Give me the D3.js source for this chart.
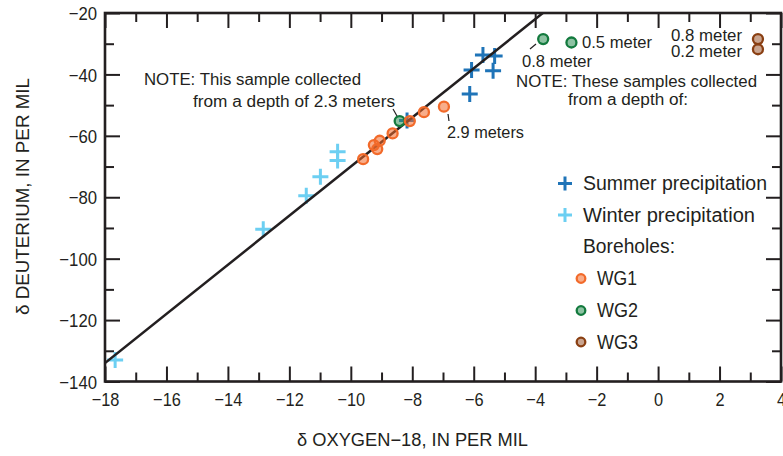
<!DOCTYPE html>
<html><head><meta charset="utf-8">
<script src="https://cdn.jsdelivr.net/npm/d3@7"></script>
<style>
body{margin:0;background:#fff;}
text{font-family:"Liberation Sans",Arial,sans-serif;fill:#231f20;}
</style></head><body>
<svg id="c" width="783" height="456"></svg>
<script>
// Data (δ18O, δD), per mil
const summerX = [-5.70, -5.32, -6.07, -5.37, -6.13, -8.17];
const summerY = [-33.7, -34.0, -38.6, -38.8, -46.4, -55.0];
const winterX = [-17.67, -12.85, -11.45, -10.99, -10.43, -10.43];
const winterY = [-133.0, -90.4, -79.5, -73.3, -68.0, -65.2];
const wg1X = [-9.60, -9.14, -9.25, -9.06, -8.64, -8.08, -7.62, -6.97];
const wg1Y = [-67.6, -64.3, -63.0, -61.6, -59.2, -55.2, -52.3, -50.5];
const wg2X = [-8.41, -3.74, -2.82];
const wg2Y = [-55.2, -28.5, -29.6];
const wg3X = [3.25, 3.25];
const wg3Y = [-28.5, -31.8];
const lineSlope = 8, lineIntercept = 10; // meteoric water line
const xTicks = [-18,-16,-14,-12,-10,-8,-6,-4,-2,0,2,4];
const yTicks = [-20,-40,-60,-80,-100,-120,-140];
const legendItems = ["Summer precipitation","Winter precipitation","Boreholes:","WG1","WG2","WG3"];

const svg = d3.select("#c");
const L=105, R=781, T=13, B=381.5;
const x = d3.scaleLinear().domain([-18,4]).range([L,R]);
const y = d3.scaleLinear().domain([-140,-20]).range([B,T]);
const ink = "#231f20";
const C = {summer:"#1f74b8", winter:"#6ccff2",
  wg1s:"#f26a2a", wg1f:"#f26a2a", wg2s:"#137a3e", wg2f:"#2f8f55", wg3s:"#8a3f12", wg3f:"#9c5a33"};

function condense(sel, f){ sel.each(function(){ const w=this.getComputedTextLength(); d3.select(this).attr("textLength",w*f).attr("lengthAdjust","spacingAndGlyphs"); }); }
function fit(sel, w){ sel.attr("textLength",w).attr("lengthAdjust","spacingAndGlyphs"); }

svg.append("clipPath").attr("id","clip").append("rect").attr("x",L).attr("y",T).attr("width",R-L).attr("height",B-T);

// axes
const xMinor = d3.range(-17,4,2);
const yMinor = d3.range(-130,-20,20);
function ax(g, axis){ g.call(axis); g.selectAll(".domain").remove(); g.selectAll("line").attr("stroke",ink).attr("stroke-width",2); }
const fmt = d => d<0 ? "\u2212"+Math.abs(d) : String(d);
const gb = svg.append("g").attr("transform",`translate(0,${B})`);
ax(gb, d3.axisBottom(x).tickValues(xTicks).tickSize(-15).tickPadding(0).tickFormat(fmt));
gb.selectAll("text").attr("font-size",19).attr("y",18).attr("dy","0.35em").attr("font-family",null).attr("fill",ink);
condense(gb.selectAll("text"),0.86);
ax(svg.append("g").attr("transform",`translate(0,${B})`), d3.axisBottom(x).tickValues(xMinor).tickSize(-9).tickFormat(""));
ax(svg.append("g").attr("transform",`translate(0,${T})`), d3.axisTop(x).tickValues(xTicks).tickSize(-15).tickFormat(""));
ax(svg.append("g").attr("transform",`translate(0,${T})`), d3.axisTop(x).tickValues(xMinor).tickSize(-9).tickFormat(""));
const gl = svg.append("g").attr("transform",`translate(${L},0)`);
ax(gl, d3.axisLeft(y).tickValues(yTicks).tickSize(-15).tickPadding(0).tickFormat(fmt));
gl.selectAll("text").attr("font-size",19).attr("x",-8).attr("dy","0.35em").attr("font-family",null).attr("fill",ink);
condense(gl.selectAll("text"),0.88);
ax(svg.append("g").attr("transform",`translate(${L},0)`), d3.axisLeft(y).tickValues(yMinor).tickSize(-9).tickFormat(""));
ax(svg.append("g").attr("transform",`translate(${R},0)`), d3.axisRight(y).tickValues(yTicks).tickSize(-15).tickFormat(""));
ax(svg.append("g").attr("transform",`translate(${R},0)`), d3.axisRight(y).tickValues(yMinor).tickSize(-9).tickFormat(""));
svg.append("rect").attr("x",L).attr("y",T).attr("width",R-L).attr("height",B-T)
  .attr("fill","none").attr("stroke",ink).attr("stroke-width",2.6);

// plus markers
function plus(g, cx, cy, col, s){
  g.append("path").attr("d",`M${cx-s},${cy}H${cx+s}M${cx},${cy-s}V${cy+s}`)
   .attr("stroke",col).attr("stroke-width",3).attr("fill","none");
}
const pg = svg.append("g");
winterX.forEach((v,i)=>plus(pg,x(v),y(winterY[i]),C.winter,8));
summerX.forEach((v,i)=>plus(pg,x(v),y(summerY[i]),C.summer,8));

// water line
const lx0=-18, lx1=(-20-lineIntercept)/lineSlope;
svg.append("line").attr("clip-path","url(#clip)")
  .attr("x1",x(lx0)).attr("y1",y(lineSlope*lx0+lineIntercept))
  .attr("x2",x(lx1)).attr("y2",y(lineSlope*lx1+lineIntercept))
  .attr("stroke",ink).attr("stroke-width",2.5);

// circles (semi-transparent fill lets the line show through)
function circ(g,cx,cy,s,f,r,fo){ g.append("circle").attr("cx",cx).attr("cy",cy).attr("r",r).attr("fill",f).attr("fill-opacity",fo).attr("stroke",s).attr("stroke-width",2.3); }
const cg = svg.append("g");
wg2X.forEach((v,i)=>circ(cg,x(v),y(wg2Y[i]),C.wg2s,C.wg2f,5,0.55));
wg1X.forEach((v,i)=>circ(cg,x(v),y(wg1Y[i]),C.wg1s,C.wg1f,5,0.55));
wg3X.forEach((v,i)=>circ(cg,x(v),y(wg3Y[i]),C.wg3s,C.wg3f,5,0.55));

// annotations: centre y and target width
function txt(tx,ty,s,size,w){ const t=svg.append("text").attr("x",tx).attr("y",ty).attr("dy","0.35em").attr("font-size",size).text(s); fit(t,w); return t; }
function lead(x1,y1,x2,y2){ svg.append("line").attr("x1",x1).attr("y1",y1).attr("x2",x2).attr("y2",y2).attr("stroke",ink).attr("stroke-width",1.2); }
txt(144,79,"NOTE: This sample collected",16,217);
txt(193,101,"from a depth of 2.3 meters",16,202);
lead(393,109,397,116);
txt(447,132,"2.9 meters",16,77);
lead(448,114,449,121);
txt(522,61,"0.8 meter",16,70);
lead(530,49,536,44);
txt(582,42,"0.5 meter",16,70);
txt(671,35,"0.8 meter",16,71);
txt(671,51,"0.2 meter",16,71);
txt(516,81,"NOTE: These samples collected",16,241);
txt(568,99,"from a depth of:",16,120);

// legend
const lg = svg.append("g");
const ly = [183.5,215,246.5,278.5,310.5,342];
plus(lg,565,ly[0],C.summer,7);
plus(lg,565,ly[1],C.winter,7);
circ(lg,581,ly[3],C.wg1s,C.wg1f,4.3,0.55);
circ(lg,581,ly[4],C.wg2s,C.wg2f,4.3,0.55);
circ(lg,581,ly[5],C.wg3s,C.wg3f,4.3,0.55);
const lw = [184,172,92,40,41,41];
legendItems.forEach((s,i)=>{
  const t = lg.append("text").attr("x", i<3?583:597).attr("y",ly[i]).attr("dy","0.35em").attr("font-size",19.5).text(s);
  fit(t, lw[i]);
});

// axis titles
fit(svg.append("text").attr("x",297).attr("y",440).attr("dy","0.35em").attr("font-size",18).text("\u03b4 OXYGEN\u221218, IN PER MIL"),231);
fit(svg.append("text").attr("transform","translate(23,315) rotate(-90)").attr("dy","0.35em").attr("font-size",18).text("\u03b4 DEUTERIUM, IN PER MIL"),237);
</script></body></html>
